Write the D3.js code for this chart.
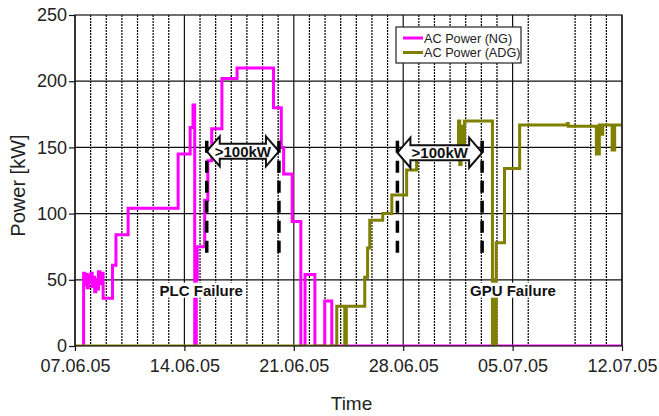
<!DOCTYPE html>
<html>
<head>
<meta charset="utf-8">
<script src="https://cdn.jsdelivr.net/npm/d3@7"></script>
<style>
  html, body { margin: 0; padding: 0; background: #fff; }
  svg { display: block; font-family: 'Liberation Sans', Arial, sans-serif; }
</style>
</head>
<body>
<svg id="chart" width="659" height="416"></svg>
<script>
// [day offset from 07.06.05, kW]
const ngPower = [
  [0.53, 0], [0.55, 55], [0.64, 46], [0.71, 54], [0.79, 44], [0.86, 53], [0.94, 48],
  [1.02, 55], [1.1, 45], [1.18, 52], [1.26, 41], [1.34, 50], [1.42, 43], [1.5, 56],
  [1.6, 47], [1.68, 55], [1.8, 36], [2.4, 61], [2.62, 84], [3.4, 104], [6.6, 145],
  [7.37, 165], [7.55, 182], [7.66, 0], [7.76, 50], [7.82, 75], [8.3, 110], [8.5, 140],
  [8.75, 164], [9.4, 202], [10.37, 210], [12.7, 180], [13.2, 150], [13.35, 130],
  [13.9, 94], [14.45, 0], [14.72, 54], [15.35, 0], [15.98, 34], [16.43, 0], [35, 0]
]

const adgPower = [
  [0, 0], [16.75, 30], [17.26, 0], [17.36, 30], [18.54, 52], [18.72, 74], [18.86, 95],
  [19.69, 100], [20.27, 114], [21.22, 133], [21.86, 148], [24.54, 170], [24.62, 137],
  [24.7, 166], [24.8, 141], [24.92, 170], [26.71, 0], [26.8, 50], [26.86, 0], [26.95, 78],
  [27.48, 134], [28.45, 167], [31.5, 168], [31.56, 166], [33.36, 145], [33.55, 167],
  [33.72, 160], [33.77, 167], [34.37, 148], [34.53, 167], [35, 167]
]

const startDate = '2005-06-07'
const totalDays = 35
const weekTickDays = [0, 7, 14, 21, 28, 35]
const yTicks = [0, 50, 100, 150, 200, 250]
const missingGridDays = [30, 31]

const seriesNames = ['AC Power (NG)', 'AC Power (ADG)']
const seriesColors = ['#ff00ff', '#808000']

// [from day, to day, kW]
const arrowSpans = [[8.43, 13.05, 147], [20.63, 26.05, 146]]
const arrowLabel = '>100kW'
const failureMarkDays = [8.43, 13.05, 20.63, 26.05]
const failureMarkRange = [69, 155]
// [text, day, kW]
const failureLabels = [['PLC Failure', 8.08, 38], ['GPU Failure', 28.02, 38]]

const margin = { top: 15, right: 37, bottom: 70, left: 75 }
const width = 659
const height = 416

const svg = d3.select('#chart')
const innerW = width - margin.left - margin.right
const innerH = height - margin.top - margin.bottom

const t0 = new Date(startDate + 'T00:00:00Z')
const toDate = d => new Date(t0.getTime() + d * 864e5)

const x = d3.scaleUtc().domain([t0, toDate(totalDays)]).range([0, innerW])
const y = d3.scaleLinear().domain([0, 250]).range([innerH, 0])

const g = svg.append('g').attr('transform', `translate(${margin.left},${margin.top})`)

g.append('clipPath').attr('id', 'plot-clip')
  .append('rect').attr('width', innerW).attr('height', innerH)

const weekTicks = weekTickDays.map(toDate)

// daily dotted grid
const minorDays = d3.range(1, totalDays)
  .filter(d => d % 7 !== 0 && !missingGridDays.includes(d))
  .map(toDate)

g.append('g')
  .selectAll('line')
  .data(minorDays)
  .join('line')
  .attr('x1', d => x(d)).attr('x2', d => x(d))
  .attr('y1', 0).attr('y2', innerH)
  .attr('stroke', '#000')
  .attr('stroke-width', 1.2)
  .attr('stroke-dasharray', '2,1')

g.append('g')
  .selectAll('line')
  .data(weekTicks)
  .join('line')
  .attr('x1', d => x(d)).attr('x2', d => x(d))
  .attr('y1', 0).attr('y2', innerH)
  .attr('stroke', '#111')
  .attr('stroke-width', 1.2)

g.append('g')
  .selectAll('line')
  .data(yTicks.slice(1, -1))
  .join('line')
  .attr('x1', 0).attr('x2', innerW)
  .attr('y1', d => y(d)).attr('y2', d => y(d))
  .attr('stroke', '#111')
  .attr('stroke-width', 1.2)

// series
const line = d3.line()
  .x(d => x(toDate(d[0])))
  .y(d => y(d[1]))
  .curve(d3.curveStepAfter)

const lines = g.append('g').attr('clip-path', 'url(#plot-clip)')
;[ngPower, adgPower].forEach((series, i) => {
  lines.append('path')
    .datum(series)
    .attr('d', line)
    .attr('fill', 'none')
    .attr('stroke', seriesColors[i])
    .attr('stroke-width', 3)
    .attr('stroke-linejoin', 'miter')
})

g.append('rect')
  .attr('width', innerW).attr('height', innerH)
  .attr('fill', 'none')
  .attr('stroke', '#111')
  .attr('stroke-width', 1.2)

// failure labels with white background
failureLabels.forEach(([text, day, kw]) => {
  const lbl = g.append('g')
  const txt = lbl.append('text')
    .attr('x', x(toDate(day)))
    .attr('y', y(kw))
    .attr('text-anchor', 'middle')
    .attr('font-size', 15)
    .attr('font-weight', 'bold')
    .attr('fill', '#111')
    .text(text)
  const bb = txt.node().getBBox()
  lbl.insert('rect', 'text')
    .attr('x', bb.x - 1).attr('y', bb.y + 1)
    .attr('width', bb.width + 2).attr('height', bb.height - 2)
    .attr('fill', '#fff')
})

// block arrows
function arrowPath (x1, x2, yc) {
  const head = 13
  const headHalf = 15
  const bodyHalf = 7.5
  return `M${x1},${yc} L${x1 + head},${yc - headHalf} L${x1 + head},${yc - bodyHalf} ` +
    `L${x2 - head},${yc - bodyHalf} L${x2 - head},${yc - headHalf} L${x2},${yc} ` +
    `L${x2 - head},${yc + headHalf} L${x2 - head},${yc + bodyHalf} L${x1 + head},${yc + bodyHalf} ` +
    `L${x1 + head},${yc + headHalf} Z`
}

const arrows = g.append('g')
arrowSpans.forEach(([d1, d2, kw]) => {
  const x1 = x(toDate(d1))
  const x2 = x(toDate(d2))
  arrows.append('path')
    .attr('d', arrowPath(x1, x2, y(kw)))
    .attr('fill', '#fff')
    .attr('stroke', '#111')
    .attr('stroke-width', 2)
    .attr('stroke-linejoin', 'miter')
  arrows.append('text')
    .attr('x', (x1 + x2) / 2)
    .attr('y', y(kw))
    .attr('dy', '0.36em')
    .attr('text-anchor', 'middle')
    .attr('font-size', 15)
    .attr('font-weight', 'bold')
    .attr('fill', '#111')
    .text(arrowLabel)
})

g.append('g')
  .selectAll('line')
  .data(failureMarkDays)
  .join('line')
  .attr('x1', d => x(toDate(d))).attr('x2', d => x(toDate(d)))
  .attr('y1', y(failureMarkRange[1])).attr('y2', y(failureMarkRange[0]))
  .attr('stroke', '#000')
  .attr('stroke-width', 3.5)
  .attr('stroke-dasharray', '12,8')

// axes
const fmt = d3.utcFormat('%d.%m.%y')
const xAxis = g.append('g')
  .attr('transform', `translate(0,${innerH})`)
  .call(d3.axisBottom(x).tickValues(weekTicks).tickFormat(fmt).tickSize(5).tickPadding(8))
const yAxis = g.append('g')
  .call(d3.axisLeft(y).tickValues(yTicks).tickSize(6).tickPadding(2))

;[xAxis, yAxis].forEach(ax => {
  ax.select('.domain').remove()
  ax.selectAll('.tick line').attr('stroke', '#111').attr('stroke-width', 1.2)
  ax.selectAll('.tick text')
    .attr('font-family', "'Liberation Sans', Arial, sans-serif")
    .attr('font-size', 18)
    .attr('fill', '#222')
})

svg.append('text')
  .attr('transform', `translate(25,${margin.top + innerH / 2 + 5}) rotate(-90)`)
  .attr('text-anchor', 'middle')
  .attr('font-size', 20)
  .attr('fill', '#222')
  .text('Power [kW]')

svg.append('text')
  .attr('x', margin.left + innerW / 2 + 3)
  .attr('y', 410)
  .attr('text-anchor', 'middle')
  .attr('font-size', 19)
  .attr('fill', '#222')
  .text('Time')

// legend
const legend = svg.append('g').attr('transform', 'translate(396,27)')
legend.append('rect')
  .attr('width', 125).attr('height', 36)
  .attr('fill', '#fff')
  .attr('stroke', '#222')
  .attr('stroke-width', 1.2)

seriesNames.forEach((name, i) => {
  const row = legend.append('g').attr('transform', `translate(0,${11 + i * 14.5})`)
  row.append('line')
    .attr('x1', 7).attr('x2', 27)
    .attr('stroke', seriesColors[i])
    .attr('stroke-width', 3)
  row.append('text')
    .attr('x', 28)
    .attr('dy', '0.36em')
    .attr('font-size', 12.7)
    .attr('fill', '#222')
    .text(name)
})
</script>
</body>
</html>
